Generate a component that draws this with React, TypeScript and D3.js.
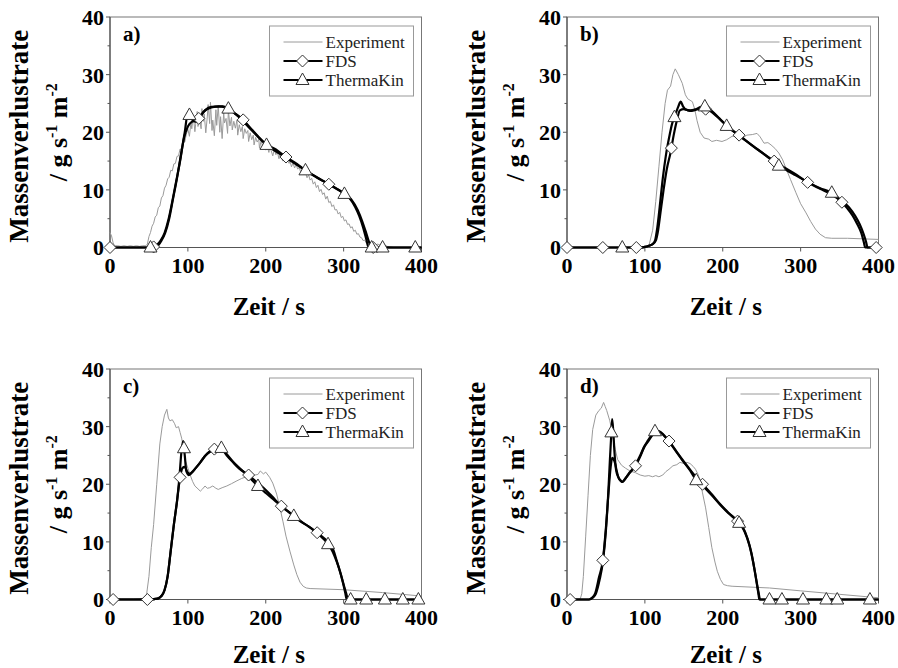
import React from "react";
import * as d3 from "d3";

type P = [number, number];

// ---------- axis / text data ----------
const xTicks = [0, 100, 200, 300, 400];
const yTicks = [0, 10, 20, 30, 40];
const yMinor = [5, 15, 25, 35];
const panelLabels = ["a)", "b)", "c)", "d)"];
const legendLabels = ["Experiment", "FDS", "ThermaKin"];
const xTitle = "Zeit / s";
const yTitle = "Massenverlustrate";

// ---------- panel a ----------
const expA: P[] = [
  [0, 2.6], [2, 2.0], [4, 0.8], [6, 0.3], [10, 0.3], [14, 0.2], [18, 0.3], [22, 0.2], [26, 0.3], [30, 0.2],
  [34, 0.3], [38, 0.2], [42, 0.3], [46, 0.3], [48, 0.6], [50, 1.9], [52, 2.6], [54, 3.7], [56, 4.2], [58, 5.3],
  [60, 5.6], [62, 6.9], [64, 7.2], [66, 8.6], [68, 9.0], [70, 10.3], [72, 10.8], [74, 11.9], [76, 12.2], [78, 13.4],
  [80, 13.3], [82, 14.5], [84, 14.6], [86, 15.8], [88, 15.9], [90, 17.1], [92, 17.0], [94, 18.4], [96, 18.3], [98, 19.7],
  [100, 20.5], [102, 19.3], [104, 21.8], [105, 20.6], [107, 22.9], [109, 20.1], [110, 21.4], [112, 23.6], [113, 21.0],
  [115, 22.3], [117, 20.6], [118, 24.1], [120, 21.9], [121, 23.2], [123, 19.9], [125, 22.8], [126, 24.8], [128, 21.5],
  [129, 25.2], [131, 20.3], [132, 22.1], [134, 19.4], [136, 23.9], [137, 21.2], [139, 24.6], [141, 20.0], [142, 22.7],
  [144, 18.9], [146, 23.4], [147, 21.6], [149, 22.4], [151, 19.8], [152, 23.8], [154, 21.1], [156, 22.6], [157, 20.4],
  [159, 21.9], [161, 20.7], [163, 22.1], [164, 19.5], [166, 21.3], [168, 20.1], [170, 21.0], [171, 18.9], [173, 20.6],
  [175, 19.8], [177, 20.3], [178, 18.4], [180, 19.9], [182, 18.7], [184, 19.5], [185, 17.8], [187, 19.1], [189, 18.3],
  [191, 18.8], [192, 17.2], [194, 18.5], [196, 17.6], [198, 18.2], [200, 16.9], [202, 17.6], [204, 16.5], [205, 17.3],
  [207, 16.8], [209, 15.9], [211, 17.0], [213, 16.1], [215, 16.5], [217, 15.4], [218, 16.2], [220, 15.6], [222, 15.0],
  [224, 15.9], [226, 14.7], [228, 15.2], [230, 14.6], [231, 15.1], [233, 14.0], [235, 14.7], [237, 13.8], [239, 14.4],
  [241, 13.6], [243, 13.9], [245, 13.0], [247, 13.5], [249, 12.6], [251, 13.0], [253, 12.1], [255, 12.6], [257, 11.7],
  [259, 12.0], [261, 11.0], [263, 11.4], [265, 10.4], [267, 10.8], [269, 9.7], [271, 10.1], [273, 9.2], [275, 9.5],
  [277, 8.4], [279, 8.9], [281, 7.8], [283, 8.0], [285, 7.1], [287, 7.4], [289, 6.5], [291, 6.6], [293, 5.8], [295, 6.1],
  [297, 5.2], [299, 5.4], [301, 4.6], [303, 4.8], [305, 4.0], [307, 4.1], [309, 3.4], [311, 3.6], [313, 2.8], [315, 3.0],
  [317, 2.3], [319, 2.4], [321, 1.8], [323, 1.7], [325, 1.2], [327, 1.3], [329, 0.8], [331, 0.7], [333, 0.4], [336, 0.3],
  [340, 0.3], [344, 0.6], [348, 0.3], [352, 0.5], [356, 0.2], [360, 0.1], [364, 0], [400, 0],
];
const fdsA: P[] = [
  [0, 0], [50, 0], [56, 0.1], [60, 0.4], [65, 1.2], [70, 2.5], [75, 4.8], [80, 8], [85, 11.5], [90, 15], [95, 19],
  [100, 21], [105, 21.8], [110, 22], [115, 22.5], [120, 23.5], [130, 24.3], [140, 24.5], [148, 24.3], [160, 23.3],
  [170, 22.3], [180, 20.8], [190, 19.3], [200, 18], [213, 17], [226, 15.7], [240, 14.5], [252, 13.3], [265, 12.2],
  [282, 10.9], [300, 9.4], [308, 8.5], [315, 7], [320, 5.5], [325, 3.5], [329, 1.5], [332, 0], [400, 0],
];
const tkA: P[] = [
  [0, 0], [52, 0], [58, 0.1], [62, 0.4], [66, 1.2], [71, 2.6], [76, 5], [81, 8.5], [86, 12], [91, 16], [96, 20],
  [100, 23.4], [103, 22.8], [107, 22], [111, 21.8], [116, 22.8], [122, 23.8], [130, 24.4], [145, 24.5], [152, 24.1],
  [165, 22.7], [180, 20.6], [201, 17.8], [226, 15.6], [252, 13.3], [282, 10.9], [301, 9.3], [310, 8.3], [318, 6.5],
  [324, 4.5], [329, 2.5], [333, 0.8], [336, 0], [400, 0],
];
const fdsMarkA = [0, 56, 114, 171, 226, 281, 338];
const tkMarkA = [52, 102, 152, 201, 251, 301, 336, 350, 392];

// ---------- panel b ----------
const expB: P[] = [
  [0, 0], [100, 0], [105, 0.2], [110, 3], [114, 8], [118, 14], [122, 20], [126, 25], [129, 27.3], [133, 28], [136, 30],
  [139, 31], [143, 30], [148, 28.5], [152, 26.5], [155, 25.8], [161, 25.3], [164, 24], [167, 22], [171, 20], [176, 19],
  [182, 18.8], [186, 18.4], [192, 18.6], [199, 18.4], [205, 18.7], [212, 19.3], [218, 19.2], [225, 19], [231, 19.5],
  [238, 19.6], [244, 19.8], [248, 19.2], [253, 18.1], [258, 18.2], [262, 17.8], [267, 17.2], [272, 16.4], [277, 15.2],
  [281, 13.8], [287, 11.8], [294, 9.5], [300, 7.6], [307, 6], [313, 4.5], [319, 3.2], [325, 2.3], [332, 1.7], [340, 1.6],
  [360, 1.6], [380, 1.5], [400, 1.4],
];
const fdsB: P[] = [
  [0, 0], [95, 0], [100, 0.1], [105, 0.3], [110, 0.6], [114, 1.2], [117, 3], [120, 6], [124, 10], [128, 13.5], [133, 16.5],
  [137, 19.5], [141, 22], [145, 23.8], [150, 24], [155, 23.8], [160, 23.7], [166, 23.9], [172, 24.1], [178, 24], [185, 23.6],
  [192, 22.8], [200, 21.8], [210, 20.6], [221, 19.5], [235, 18], [250, 16.5], [266, 15], [280, 13.8], [295, 12.6],
  [309, 11.3], [325, 10.2], [340, 9.2], [352, 8], [360, 6.8], [367, 5.5], [373, 4], [378, 2.5], [381, 1], [383, 0], [400, 0],
];
const tkB: P[] = [
  [0, 0], [95, 0], [100, 0.1], [105, 0.3], [110, 0.6], [113, 1.2], [116, 3.5], [119, 7], [123, 12], [127, 16], [131, 19],
  [135, 21.5], [139, 23], [143, 24.5], [146, 25.3], [149, 24.5], [152, 24], [158, 23.8], [165, 24], [172, 24.4], [178, 24.5],
  [185, 23.8], [195, 22.5], [205, 21.1], [215, 20], [225, 19], [240, 17.5], [255, 16], [272, 14.2], [290, 12.8], [310, 11.3],
  [325, 10.3], [340, 9.5], [352, 8.2], [362, 7], [370, 5.5], [376, 4], [381, 2.3], [384, 1], [386, 0], [400, 0],
];
const fdsMarkB = [0, 46, 89, 134, 178, 221, 266, 309, 353, 397];
const tkMarkB = [71, 138, 177, 205, 272, 340];

// ---------- panel c ----------
const expC: P[] = [
  [0, 0.5], [5, 0.2], [15, 0.1], [30, 0.1], [44, 0.2], [47, 0.9], [50, 4], [53, 9], [56, 13], [60, 20], [64, 27], [67, 30],
  [70, 32], [73, 33], [75, 31.5], [77, 31], [80, 31.2], [83, 30.5], [85, 29.8], [88, 30], [90, 29], [92, 28], [94, 26.5],
  [97, 24], [100, 22.8], [103, 21.6], [106, 20.5], [109, 19.7], [113, 19.2], [116, 18.8], [119, 19.2], [122, 19.7], [125, 19.3],
  [128, 19.4], [132, 19.7], [136, 19.3], [139, 19.1], [144, 19.4], [150, 19.7], [156, 20.1], [163, 20.6], [169, 21], [175, 21.3],
  [181, 21.1], [186, 21.6], [190, 21.7], [193, 22.3], [197, 21.8], [200, 22.1], [205, 21.2], [209, 20.2], [214, 18.3], [218, 16],
  [222, 13.6], [226, 11], [231, 8.4], [236, 6], [240, 4.3], [244, 3], [248, 2.3], [252, 2], [257, 1.9], [300, 1.7], [350, 1.2],
  [400, 0.6],
];
const fdsC: P[] = [
  [0, 0], [52, 0], [58, 0.1], [62, 0.2], [66, 0.6], [70, 1.6], [74, 4], [78, 8.5], [82, 13], [86, 17], [90, 21.2], [93, 22.8],
  [96, 23], [99, 22.2], [102, 21.8], [106, 22.2], [110, 22.8], [116, 23.8], [122, 24.9], [128, 25.7], [134, 26.1], [140, 26.2],
  [144, 26], [150, 25], [158, 23.8], [166, 22.7], [178, 21.6], [188, 20.4], [197, 19.4], [208, 17.9], [220, 16.2], [232, 14.9],
  [244, 13.6], [255, 12.7], [265, 11.7], [275, 10.6], [282, 9.7], [287, 8.5], [291, 6.8], [295, 5], [299, 3], [302, 1.2],
  [304, 0], [400, 0],
];
const tkC: P[] = [
  [0, 0], [52, 0], [58, 0.1], [62, 0.2], [66, 0.6], [70, 1.6], [74, 4], [78, 8.5], [82, 13], [86, 17], [89, 21], [92, 26],
  [94, 27.5], [96, 25], [98, 22.3], [101, 21.6], [105, 22], [110, 22.8], [116, 23.8], [122, 24.9], [128, 25.6], [135, 26],
  [143, 26.3], [150, 25.2], [158, 23.9], [168, 22.6], [178, 21.3], [190, 19.7], [200, 18.5], [212, 17.1], [224, 15.8],
  [236, 14.5], [248, 13.3], [258, 12.4], [268, 11.3], [280, 9.6], [286, 8.3], [291, 6.6], [296, 4.6], [300, 2.6], [303, 1.2],
  [306, 0], [400, 0],
];
const fdsMarkC = [4, 48, 90, 134, 178, 220, 266];
const tkMarkC = [95, 143, 190, 236, 280, 309, 329, 353, 376, 396];

// ---------- panel d ----------
const expD: P[] = [
  [0, 0.8], [3, 0.4], [6, 0.1], [17, 0.1], [19, 1], [21, 4], [24, 11], [27, 18], [30, 25], [33, 29.5], [37, 32], [41, 32.8],
  [44, 33.2], [47, 34.2], [49, 33.5], [51, 32.8], [55, 31], [58, 29], [62, 26], [65, 24.3], [70, 23.3], [75, 22.8], [81, 22.3],
  [88, 22], [94, 21.6], [100, 21.4], [105, 21.5], [110, 21.3], [114, 21.5], [118, 21.3], [123, 21.6], [127, 22.2], [131, 22.6],
  [136, 23.2], [141, 23.4], [145, 23.8], [150, 23.6], [154, 23.8], [158, 23.6], [162, 23.1], [165, 22.6], [168, 21.8],
  [171, 20.6], [174, 18.5], [178, 15.9], [182, 12.5], [186, 9], [190, 6.5], [193, 4.9], [197, 3.5], [201, 2.6], [206, 2.4],
  [212, 2.3], [260, 2], [300, 1.5], [350, 0.9], [400, 0.3],
];
const fdsD: P[] = [
  [0, 0], [28, 0], [32, 0.3], [36, 1], [41, 3.8], [46, 6.8], [50, 12.5], [53, 18], [56, 22.9], [58, 24.6], [60, 24.3],
  [62, 23.5], [64, 22.2], [66, 21.2], [69, 20.6], [71, 20.4], [75, 21], [79, 21.7], [84, 22.5], [88, 23.2], [94, 24.8],
  [99, 26.4], [104, 27.4], [109, 28.4], [114, 29], [118, 29.2], [124, 28.6], [131, 27.5], [140, 25.8], [148, 24.3], [160, 22.2],
  [170, 20.5], [174, 20], [185, 18.4], [195, 16.8], [207, 15.1], [219, 13.6], [226, 12.5], [232, 10.5], [237, 8], [241, 5],
  [244, 2.5], [246, 0.8], [247, 0], [400, 0],
];
const tkD: P[] = [
  [0, 0], [29, 0], [33, 0.3], [37, 1], [42, 3.5], [46, 6.5], [50, 12], [53, 18.5], [55, 24], [57, 29], [58, 31.3],
  [59.5, 29], [61, 25.5], [63, 22.5], [66, 21.2], [69, 20.6], [71, 20.4], [75, 21], [79, 21.8], [84, 22.6], [88, 23.4],
  [94, 25], [99, 26.5], [104, 27.6], [109, 28.6], [113, 29.2], [118, 29.2], [124, 28.5], [131, 27.4], [140, 25.7],
  [148, 24.2], [158, 22.4], [166, 20.7], [175, 19.6], [185, 18.2], [195, 16.7], [207, 15], [221, 13.3], [228, 11.8],
  [234, 9.5], [239, 6.5], [243, 3.5], [246, 1.2], [248, 0], [400, 0],
];
const fdsMarkD = [4, 46, 88, 131, 174, 219];
const tkMarkD = [57, 113, 166, 221, 260, 276, 303, 333, 347, 389];

// ---------- layout ----------
const W = 898;
const H = 668;
const PW = 311.5;
const PH = 230.5;
const lefts = [110, 567, 110, 567];
const tops = [17, 17, 369, 369];
const xTitleOffsets = [67, 67, 63, 63];
const FONT = "'Liberation Serif', 'Times New Roman', serif";

const panelData = [
  { exp: expA, fds: fdsA, tk: tkA, fm: fdsMarkA, tm: tkMarkA },
  { exp: expB, fds: fdsB, tk: tkB, fm: fdsMarkB, tm: tkMarkB },
  { exp: expC, fds: fdsC, tk: tkC, fm: fdsMarkC, tm: tkMarkC },
  { exp: expD, fds: fdsD, tk: tkD, fm: fdsMarkD, tm: tkMarkD },
];

function interp(data: P[], t: number): number {
  for (let i = 1; i < data.length; i++) {
    if (t <= data[i][0]) {
      const [t0, v0] = data[i - 1];
      const [t1, v1] = data[i];
      const f = t1 === t0 ? 0 : (t - t0) / (t1 - t0);
      return v0 + f * (v1 - v0);
    }
  }
  return data[data.length - 1][1];
}

const diamondPath = (cx: number, cy: number, r = 6) =>
  `M${cx},${cy - r}L${cx + r},${cy}L${cx},${cy + r}L${cx - r},${cy}Z`;
const trianglePath = (cx: number, cy: number) =>
  `M${cx},${cy - 7}L${cx + 6.5},${cy + 4.5}L${cx - 6.5},${cy + 4.5}Z`;

function Panel({ idx }: { idx: number }) {
  const left = lefts[idx];
  const top = tops[idx];
  const d = panelData[idx];
  const x = d3.scaleLinear().domain([0, 400]).range([left, left + PW]);
  const y = d3.scaleLinear().domain([0, 40]).range([top + PH, top]);
  const lineLin = d3.line<P>().x((p) => x(p[0])).y((p) => y(p[1]));
  const lineSm = d3
    .line<P>()
    .x((p) => x(p[0]))
    .y((p) => y(p[1]))
    .curve(d3.curveMonotoneX);
  const bottom = top + PH;
  const right = left + PW;
  const axisColor = "#555";

  const lgW = 144;
  const lgH = 70;
  const lgX = right - 8 - lgW;
  const lgY = top + 9;
  const rowY = [lgY + 16, lgY + 35, lgY + 54];

  const cy = top + PH / 2;

  return (
    <g>
      {/* frame */}
      <rect x={left} y={top} width={PW} height={PH} fill="none" stroke="#777" strokeWidth={1} />
      <line x1={left} x2={left} y1={top} y2={bottom} stroke={axisColor} strokeWidth={1.2} />
      <line x1={left} x2={right} y1={bottom} y2={bottom} stroke={axisColor} strokeWidth={1.2} />
      {/* y ticks */}
      {yTicks.map((v) => (
        <g key={"yt" + v}>
          <line x1={left - 4} x2={left} y1={y(v)} y2={y(v)} stroke={axisColor} />
          <text
            x={left - 6}
            y={y(v)}
            dy="0.36em"
            textAnchor="end"
            fontFamily={FONT}
            fontWeight="bold"
            fontSize={22}
          >
            {v}
          </text>
        </g>
      ))}
      {yMinor.map((v) => (
        <line key={"ym" + v} x1={left - 2.5} x2={left} y1={y(v)} y2={y(v)} stroke={axisColor} />
      ))}
      {/* x ticks */}
      {xTicks.map((t) => (
        <g key={"xt" + t}>
          <line x1={x(t)} x2={x(t)} y1={bottom} y2={bottom + 4} stroke={axisColor} />
          <text
            x={x(t)}
            y={bottom + 25}
            textAnchor="middle"
            fontFamily={FONT}
            fontWeight="bold"
            fontSize={22}
          >
            {t}
          </text>
        </g>
      ))}
      {/* titles */}
      <text
        x={(left + right) / 2 + 3}
        y={bottom + xTitleOffsets[idx]}
        textAnchor="middle"
        fontFamily={FONT}
        fontWeight="bold"
        fontSize={25}
      >
        {xTitle}
      </text>
      <text
        transform={`translate(${left - 82},${cy + 4}) rotate(-90)`}
        textAnchor="middle"
        fontFamily={FONT}
        fontWeight="bold"
        fontSize={27}
      >
        {yTitle}
      </text>
      <text
        transform={`translate(${left - 43},${cy}) rotate(-90)`}
        textAnchor="middle"
        fontFamily={FONT}
        fontWeight="bold"
        fontSize={26}
      >
        {"/ g s"}
        <tspan dy={-10} fontSize={16}>
          {"-1"}
        </tspan>
        <tspan dy={10}>{" m"}</tspan>
        <tspan dy={-10} fontSize={16}>
          {"-2"}
        </tspan>
      </text>
      {/* panel label */}
      <text x={left + 13} y={top + 24} fontFamily={FONT} fontWeight="bold" fontSize={21}>
        {panelLabels[idx]}
      </text>
      {/* series */}
      <path d={lineLin(d.exp) || ""} fill="none" stroke="#9a9a9a" strokeWidth={1} />
      <path d={lineSm(d.fds) || ""} fill="none" stroke="#000" strokeWidth={2.2} />
      <path d={lineSm(d.tk) || ""} fill="none" stroke="#000" strokeWidth={2.2} />
      {d.fm.map((t, i) => (
        <path
          key={"fm" + i}
          d={diamondPath(x(t), y(interp(d.fds, t)))}
          fill="#fff"
          stroke="#333"
          strokeWidth={1}
        />
      ))}
      {d.tm.map((t, i) => (
        <path
          key={"tm" + i}
          d={trianglePath(x(t), y(interp(d.tk, t)))}
          fill="#fff"
          stroke="#333"
          strokeWidth={1}
        />
      ))}
      {/* legend */}
      <rect x={lgX} y={lgY} width={lgW} height={lgH} fill="#fff" stroke="#999" strokeWidth={1} />
      <line x1={lgX + 14} x2={lgX + 53} y1={rowY[0]} y2={rowY[0]} stroke="#9a9a9a" strokeWidth={1} />
      <line x1={lgX + 14} x2={lgX + 53} y1={rowY[1]} y2={rowY[1]} stroke="#000" strokeWidth={2} />
      <path d={diamondPath(lgX + 33, rowY[1])} fill="#fff" stroke="#333" />
      <line x1={lgX + 14} x2={lgX + 53} y1={rowY[2]} y2={rowY[2]} stroke="#000" strokeWidth={2} />
      <path d={trianglePath(lgX + 33, rowY[2])} fill="#fff" stroke="#333" />
      {legendLabels.map((s, i) => (
        <text
          key={s}
          x={lgX + 56}
          y={rowY[i]}
          dy="0.33em"
          fontFamily={FONT}
          fontSize={17}
          fill="#222"
        >
          {s}
        </text>
      ))}
    </g>
  );
}

export default function App() {
  return (
    <svg
      width={W}
      height={H}
      viewBox={`0 0 ${W} ${H}`}
      style={{ position: "absolute", left: 0, top: 0, background: "#fff" }}
    >
      <rect width={W} height={H} fill="#fff" />
      {[0, 1, 2, 3].map((i) => (
        <Panel key={i} idx={i} />
      ))}
    </svg>
  );
}
